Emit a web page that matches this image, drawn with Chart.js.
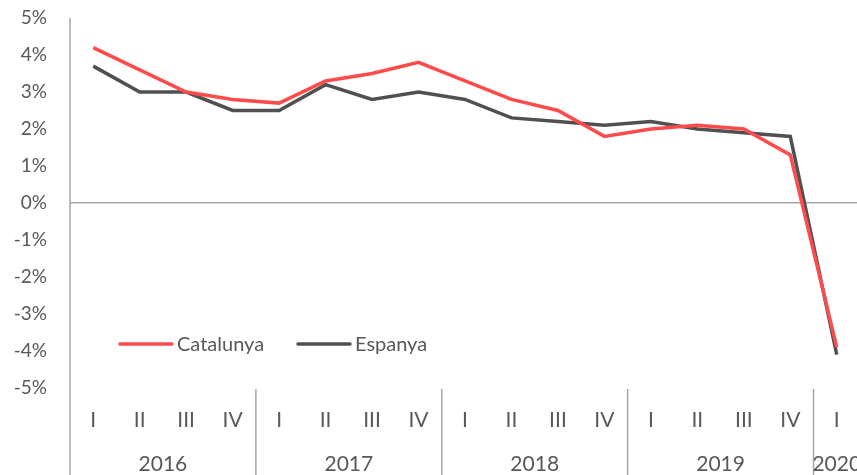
<!DOCTYPE html>
<html>
<head>
<meta charset="utf-8">
<script src="https://cdn.jsdelivr.net/npm/chart.js@4"></script>
<style>
  html, body { margin: 0; padding: 0; background: #fff; overflow: hidden; }
  #wrap { position: relative; width: 860px; height: 475px; }
</style>
</head>
<body>
<div id="wrap"><canvas id="chart"></canvas></div>
<script>
// quarterly growth, Catalunya vs Espanya
const quarters = ["I", "II", "III", "IV", "I", "II", "III", "IV", "I", "II", "III", "IV", "I", "II", "III", "IV", "I"];
const years = ["2016", "2017", "2018", "2019", "2020"];
const quartersPerYear = [4, 4, 4, 4, 1];
const catalunya = [4.2, 3.6, 3.0, 2.8, 2.7, 3.3, 3.5, 3.8, 3.3, 2.8, 2.5, 1.8, 2.0, 2.1, 2.0, 1.3, -3.9];
const espanya = [3.7, 3.0, 3.0, 2.5, 2.5, 3.2, 2.8, 3.0, 2.8, 2.3, 2.2, 2.1, 2.2, 2.0, 1.9, 1.8, -4.1];

const red = "#ff4b4b";
const dark = "#505050";
const axisGrey = "#a6a6a6";
const textGrey = "#595959";
const fontFamily = "Lato, 'Open Sans', sans-serif";

// year row, group separators, y axis line and in-plot legend
const extras = {
  id: "extras",
  afterDraw(chart) {
    const ctx = chart.ctx;
    const x = chart.scales.x;
    const area = chart.chartArea;
    const bottom = chart.height;
    ctx.save();
    ctx.strokeStyle = axisGrey;
    ctx.lineWidth = 1.5;

    // y axis line running down through the category rows
    ctx.beginPath();
    ctx.moveTo(area.left, area.top);
    ctx.lineTo(area.left, bottom);
    ctx.stroke();

    ctx.font = "21px " + fontFamily;
    ctx.fillStyle = textGrey;
    ctx.textAlign = "center";
    ctx.textBaseline = "middle";
    let idx = 0;
    years.forEach((yr, i) => {
      const n = quartersPerYear[i];
      const first = x.getPixelForValue(idx);
      const last = x.getPixelForValue(idx + n - 1);
      const half = (x.getPixelForValue(1) - x.getPixelForValue(0)) / 2;
      const endX = last + half;
      if (i < years.length - 1) {
        ctx.beginPath();
        ctx.moveTo(endX, area.bottom + 1);
        ctx.lineTo(endX, bottom);
        ctx.stroke();
      }
      ctx.fillText(yr, (first + last) / 2, 464);
      idx += n;
    });

    // legend
    ctx.font = "20px " + fontFamily;
    ctx.textAlign = "left";
    const items = [
      { label: chart.data.datasets[0].label, color: red, x0: 120 },
      { label: chart.data.datasets[1].label, color: dark, x0: 298 },
    ];
    items.forEach((it) => {
      ctx.strokeStyle = it.color;
      ctx.lineWidth = 3.5;
      ctx.lineCap = "round";
      ctx.beginPath();
      ctx.moveTo(it.x0, 344);
      ctx.lineTo(it.x0 + 52, 344);
      ctx.stroke();
      ctx.fillStyle = textGrey;
      ctx.fillText(it.label, it.x0 + 57, 345);
    });
    ctx.restore();
  },
};

new Chart(document.getElementById("chart"), {
  type: "line",
  data: {
    labels: quarters,
    datasets: [
      { label: "Catalunya", data: catalunya, borderColor: red, backgroundColor: red, borderWidth: 3.5, pointRadius: 0, tension: 0 },
      { label: "Espanya", data: espanya, borderColor: dark, backgroundColor: dark, borderWidth: 3.5, pointRadius: 0, tension: 0 },
    ],
  },
  options: {
    responsive: true,
    maintainAspectRatio: false,
    animation: false,
    layout: { padding: { top: 18, right: 0, bottom: 0, left: 0 } },
    scales: {
      x: {
        offset: true,
        grid: { display: false, drawTicks: false },
        border: { display: false },
        ticks: { color: textGrey, font: { family: fontFamily, size: 21 }, padding: 20, maxRotation: 0, autoSkip: false },
        afterFit: (s) => { s.height = 87; s.paddingLeft = 0; s.paddingRight = 0; },
      },
      y: {
        min: -5,
        max: 5,
        grid: {
          drawTicks: false,
          color: (c) => (c.tick && c.tick.value === 0 ? axisGrey : "transparent"),
          lineWidth: 1.5,
        },
        border: { display: false },
        ticks: { stepSize: 1, color: textGrey, font: { family: fontFamily, size: 19 }, padding: 23, callback: (v) => v + "%" },
        afterFit: (s) => { s.width = 70; s.paddingTop = 0; s.paddingBottom = 0; },
      },
    },
    plugins: {
      legend: { display: false },
      tooltip: { enabled: false },
    },
  },
  plugins: [extras],
});
</script>
</body>
</html>
